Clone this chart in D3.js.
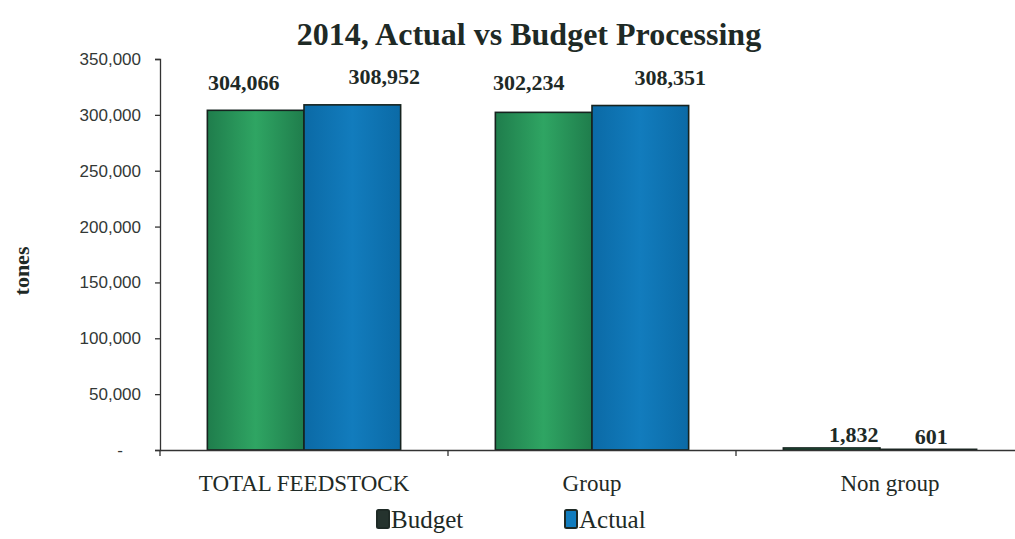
<!DOCTYPE html>
<html>
<head>
<meta charset="utf-8">
<script src="https://cdn.jsdelivr.net/npm/d3@7"></script>
<style>
  html, body { margin: 0; padding: 0; background: #fff; }
  svg { display: block; }
</style>
</head>
<body>
<svg id="chart" width="1015" height="539"></svg>
<script>
// Processing volumes, tones
const categories = ["TOTAL FEEDSTOCK", "Group", "Non group"];
const seriesNames = ["Budget", "Actual"];
const budget = [304066, 302234, 1832];
const actual = [308952, 308351, 601];
const yTicks = [0, 50000, 100000, 150000, 200000, 250000, 300000, 350000];

const svg = d3.select("#chart");
const left = 160, zeroY = 450, topY = 59;

const serif = "'Liberation Serif', 'Times New Roman', serif";
const sans = "'Liberation Sans', Arial, sans-serif";

// hand-placed data label offsets [dx, dy] per series and category
const labelNudge = {
  Budget: [[-12, -20], [-15, -22], [22, -6]],
  Actual: [[32, -21], [30, -21], [3, -5]]
};

// gradients for bar fill
const defs = svg.append("defs");
function grad(id, edge, mid) {
  const g = defs.append("linearGradient").attr("id", id)
    .attr("x1", "0%").attr("x2", "100%").attr("y1", "0%").attr("y2", "0%");
  g.append("stop").attr("offset", "0%").attr("stop-color", edge);
  g.append("stop").attr("offset", "50%").attr("stop-color", mid);
  g.append("stop").attr("offset", "100%").attr("stop-color", edge);
}
grad("gBudget", "#1f7d4c", "#2fa563");
grad("gActual", "#0b6aa6", "#127cbd");
const fills = { Budget: "url(#gBudget)", Actual: "url(#gActual)" };

const x0 = d3.scaleBand().domain(categories).range([left, left + 3 * 288]).padding(0);
const x1 = d3.scaleBand().domain(seriesNames).range([0, x0.bandwidth()])
  .paddingInner(0).paddingOuter(0.49);
const y = d3.scaleLinear().domain([0, 350000]).range([zeroY, topY]);

const rows = categories.map((c, i) => ({
  cat: c,
  vals: [{ s: "Budget", v: budget[i], i }, { s: "Actual", v: actual[i], i }]
}));

// title
svg.append("text")
  .attr("x", 529).attr("y", 45)
  .attr("text-anchor", "middle")
  .attr("font-family", serif).attr("font-weight", "bold")
  .attr("font-size", 32).attr("fill", "#1e2a26")
  .text("2014, Actual vs Budget Processing");

// y axis title
svg.append("text")
  .attr("transform", "translate(29,271) rotate(-90)")
  .attr("text-anchor", "middle")
  .attr("font-family", serif).attr("font-weight", "bold")
  .attr("font-size", 22).attr("fill", "#1e2a26")
  .text("tones");

// y axis
const yAxis = d3.axisLeft(y).tickValues(yTicks).tickSize(5).tickPadding(14)
  .tickFormat(d => d === 0 ? "-" : d3.format(",")(d));
const gy = svg.append("g").attr("transform", `translate(${left},0)`).call(yAxis);
gy.select(".domain").attr("stroke", "#333").attr("stroke-width", 1.3);
gy.selectAll(".tick line").attr("stroke", "#333").attr("stroke-width", 1.3);
gy.selectAll(".tick text")
  .attr("font-family", sans).attr("font-size", 17).attr("fill", "#333836");
gy.selectAll(".tick text").filter(d => d === 0).attr("dx", -18);

// bars
const groups = svg.append("g").selectAll("g").data(rows).join("g")
  .attr("transform", d => `translate(${x0(d.cat)},0)`);

groups.selectAll("rect").data(d => d.vals).join("rect")
  .attr("x", d => x1(d.s))
  .attr("y", d => y(d.v))
  .attr("width", x1.bandwidth())
  .attr("height", d => zeroY - y(d.v))
  .attr("fill", d => fills[d.s])
  .attr("stroke", "#16231f").attr("stroke-width", 1.6);

// value labels
groups.selectAll("text").data(d => d.vals).join("text")
  .attr("x", d => x1(d.s) + x1.bandwidth() / 2 + labelNudge[d.s][d.i][0])
  .attr("y", d => y(d.v) + labelNudge[d.s][d.i][1])
  .attr("text-anchor", "middle")
  .attr("font-family", serif).attr("font-weight", "bold")
  .attr("font-size", 22).attr("fill", "#1e2a26")
  .text(d => d3.format(",")(d.v));

// x axis
const xAxis = d3.axisBottom(x0).tickSize(0).tickPadding(25);
const gx = svg.append("g").attr("transform", `translate(0,${zeroY})`).call(xAxis);
gx.select(".domain").attr("stroke", "#333").attr("stroke-width", 1.3);
gx.selectAll(".tick text")
  .attr("font-family", serif).attr("font-size", 23).attr("fill", "#1e2a26");
gx.selectAll(".tick text").filter(d => d === "Non group").attr("dx", 10);
// category separators
gx.selectAll(".sep").data(categories).join("line")
  .attr("class", "sep")
  .attr("x1", d => x0(d)).attr("x2", d => x0(d))
  .attr("y1", 0).attr("y2", 6)
  .attr("stroke", "#333").attr("stroke-width", 1.3);

// legend
const legend = svg.append("g");
const legendX = [377, 565];
seriesNames.forEach((s, i) => {
  const g = legend.append("g").attr("transform", `translate(${legendX[i]},510)`);
  g.append("rect").attr("x", 0).attr("y", 0).attr("width", 12).attr("height", 18)
    .attr("rx", 1.5)
    .attr("fill", s === "Budget" ? "#25332e" : "#127cbd")
    .attr("stroke", "#1e2a26").attr("stroke-width", 2);
  g.append("text").attr("x", 14).attr("y", 18)
    .attr("font-family", serif).attr("font-size", 25).attr("fill", "#1e2a26")
    .text(s);
});
</script>
</body>
</html>
